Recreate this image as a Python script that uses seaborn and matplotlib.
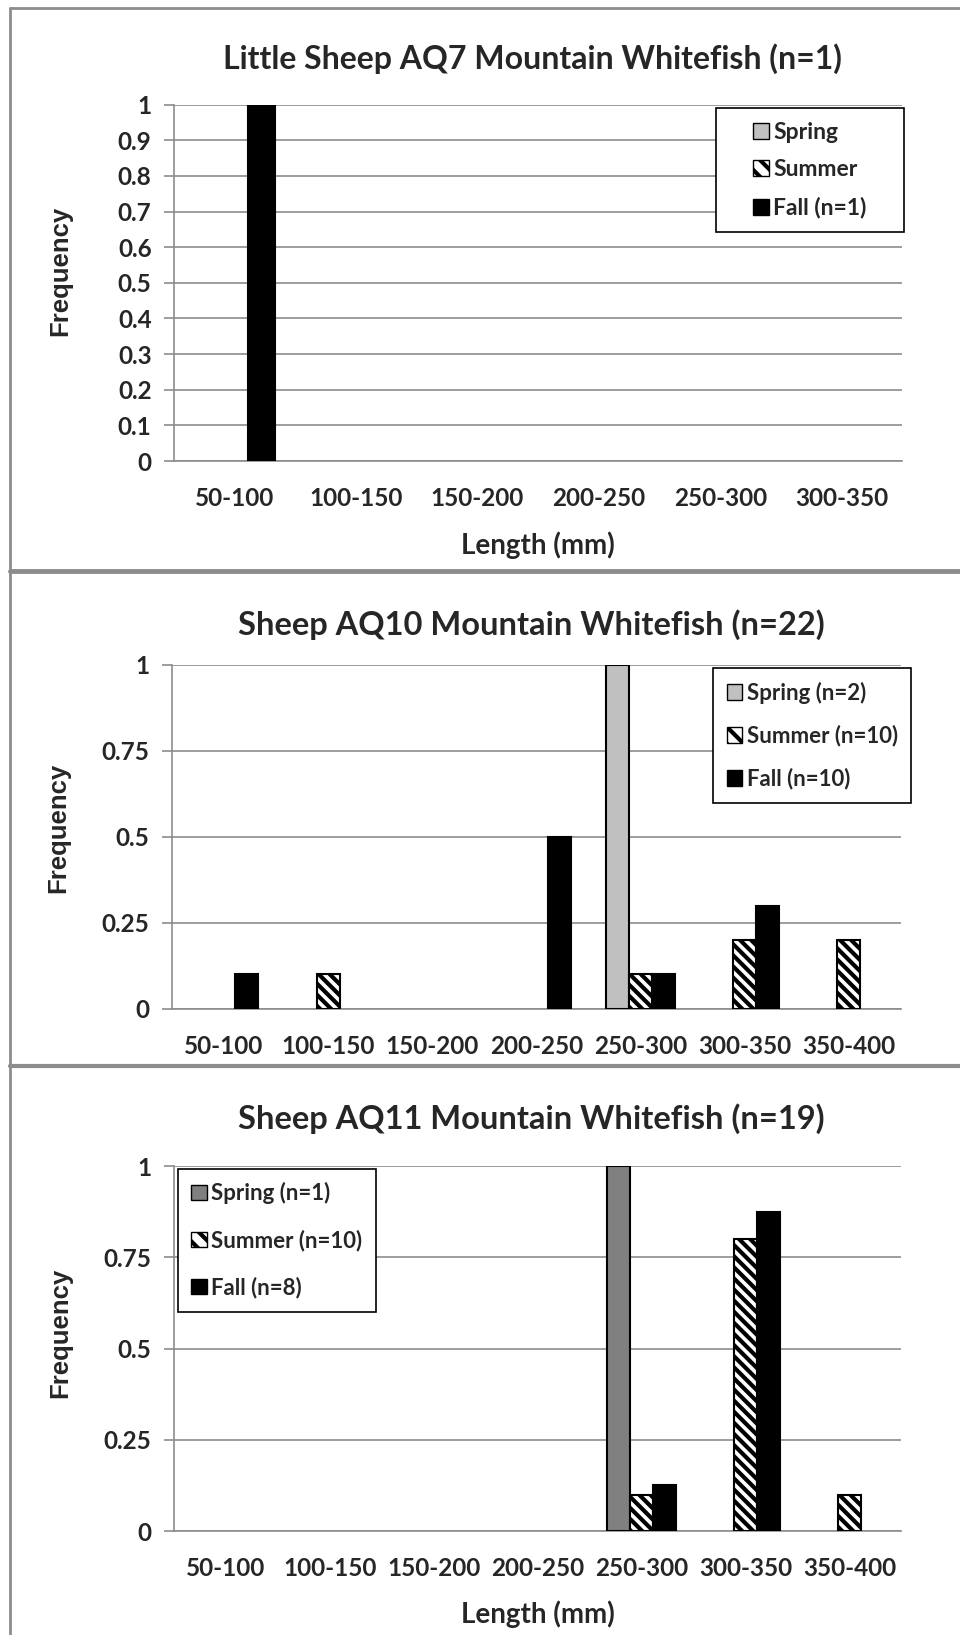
import numpy as np
import pandas as pd
import matplotlib
matplotlib.use("Agg")
import matplotlib.pyplot as plt
import seaborn as sns
from matplotlib.patches import Patch, Rectangle
from matplotlib.lines import Line2D

# ---- data ----
seasons = ["Spring", "Summer", "Fall"]

bins_a = ["50-100", "100-150", "150-200", "200-250", "250-300", "300-350"]
spring_a = [0, 0, 0, 0, 0, 0]
summer_a = [0, 0, 0, 0, 0, 0]
fall_a = [1.0, 0, 0, 0, 0, 0]
legend_a = ["Spring", "Summer", "Fall (n=1)"]
title_a = "Little Sheep AQ7 Mountain Whitefish (n=1)"

bins_b = ["50-100", "100-150", "150-200", "200-250", "250-300", "300-350", "350-400"]
spring_b = [0, 0, 0, 0, 1.0, 0, 0]
summer_b = [0, 0.1, 0, 0, 0.1, 0.2, 0.2]
fall_b = [0.1, 0, 0, 0.5, 0.1, 0.3, 0]
legend_b = ["Spring (n=2)", "Summer (n=10)", "Fall (n=10)"]
title_b = "Sheep AQ10 Mountain Whitefish (n=22)"

spring_c = [0, 0, 0, 0, 1.0, 0, 0]
summer_c = [0, 0, 0, 0, 0.1, 0.8, 0.1]
fall_c = [0, 0, 0, 0, 0.125, 0.875, 0]
legend_c = ["Spring (n=1)", "Summer (n=10)", "Fall (n=8)"]
title_c = "Sheep AQ11 Mountain Whitefish (n=19)"

sns.set_theme(style="white")
plt.rcParams["font.family"] = ["Lato", "DejaVu Sans"]
plt.rcParams["hatch.linewidth"] = 3.0
plt.rcParams["hatch.color"] = "black"

GRID = "#8c8c8c"


def long_table(bins, spring, summer, fall):
    rows = []
    for s, vals in zip(seasons, [spring, summer, fall]):
        for b, v in zip(bins, vals):
            rows.append({"bin": b, "season": s, "freq": v})
    return pd.DataFrame(rows)


def draw_panel(ax, bins, spring, summer, fall, spring_color, labels, yticks,
               ytick_labels, legend_loc, legend_anchor, legend_size, legend_gap,
               show_xlabel, xlab_y, ylab_y):
    df = long_table(bins, spring, summer, fall)
    pal = {"Spring": spring_color, "Summer": "white", "Fall": "black"}
    sns.barplot(data=df, x="bin", y="freq", hue="season", hue_order=seasons,
                palette=pal, width=0.66, edgecolor="black", linewidth=1.5,
                saturation=1, errorbar=None, legend=False, ax=ax, zorder=3)
    for i, cont in enumerate(ax.containers):
        for bar in cont:
            if bar.get_height() == 0:
                bar.set_visible(False)
            if seasons[i] == "Summer":
                bar.set_hatch("\\\\\\")

    n = len(bins)
    ax.set_xlim(-0.5, n - 0.5)
    ax.set_ylim(0, 1)
    ax.set_yticks(yticks)
    ax.set_yticklabels(ytick_labels)
    ax.yaxis.grid(True, color=GRID, linewidth=1.2, zorder=0)
    ax.set_axisbelow(True)
    for side in ["top", "right"]:
        ax.spines[side].set_visible(False)
    for side in ["left", "bottom"]:
        ax.spines[side].set_color(GRID)
        ax.spines[side].set_linewidth(1.2)
    ax.set_xticks(np.arange(-0.5, n, 1.0), minor=True)
    ax.tick_params(axis="x", which="major", length=0, pad=19, labelsize=17.5)
    ax.tick_params(axis="x", which="minor", length=9, width=1.2, color=GRID)
    ax.tick_params(axis="y", length=7, width=1.2, color=GRID, pad=9, labelsize=17.5,
                   left=True)
    for t in ax.get_xticklabels() + ax.get_yticklabels():
        t.set_fontweight("bold")

    ax.set_ylabel("Frequency", fontsize=18.5, fontweight="bold",
                  family=["Liberation Sans", "DejaVu Sans"])
    ax.yaxis.set_label_coords(-0.139, ylab_y)
    if show_xlabel:
        ax.set_xlabel("Length (mm)", fontsize=20, fontweight="bold")
        ax.xaxis.set_label_coords(0.5, xlab_y)
    else:
        ax.set_xlabel("")

    handles = [Patch(facecolor=spring_color, edgecolor="black", linewidth=1),
               Patch(facecolor="white", edgecolor="black", linewidth=1, hatch="\\\\"),
               Patch(facecolor="black", edgecolor="black", linewidth=1)]
    leg = ax.legend(handles, labels, loc=legend_loc, bbox_to_anchor=legend_anchor,
                    frameon=False, handlelength=0.7, handleheight=0.7,
                    handletextpad=0.2, labelspacing=legend_gap, borderpad=0.6,
                    borderaxespad=0, prop={"weight": "bold", "size": legend_size})
    leg.set_zorder(5)
    return leg


def frame_legend(fig, ax, leg, extra_x=0):
    # white box with thin black border behind the legend entries
    fig.canvas.draw()
    bb = leg.get_window_extent()
    inv = fig.transFigure.inverted()
    (x0, y0), (x1, y1) = inv.transform([[bb.x0 - extra_x, bb.y0],
                                        [bb.x1 + extra_x, bb.y1]])
    ax.add_patch(Rectangle((x0, y0), x1 - x0, y1 - y0, transform=fig.transFigure,
                           facecolor="white", edgecolor="black", linewidth=1.2,
                           clip_on=False, zorder=4.5))


fig = plt.figure(figsize=(9.6, 16.35), dpi=100)

ax1 = fig.add_axes([0.181, 0.718, 0.759, 0.218])
leg1 = draw_panel(ax1, bins_a, spring_a, summer_a, fall_a, "#c0c0c0", legend_a,
                  np.arange(0, 1.01, 0.1), ["0", "0.1", "0.2", "0.3", "0.4", "0.5",
                                            "0.6", "0.7", "0.8", "0.9", "1"],
                  "upper right", (0.970, 0.99), 16.5, 0.72, True, -0.197, 0.535)
fig.text(0.555, 0.964, title_a, ha="center", va="center", fontsize=23,
         fontweight="bold")

ax2 = fig.add_axes([0.179, 0.383, 0.7595, 0.2104])
leg2 = draw_panel(ax2, bins_b, spring_b, summer_b, fall_b, "#c0c0c0", legend_b,
                  [0, 0.25, 0.5, 0.75, 1], ["0", "0.25", "0.5", "0.75", "1"],
                  "upper right", (1.014, 0.99), 16, 0.96, False, -0.2, 0.526)
fig.text(0.553, 0.6177, title_b, ha="center", va="center", fontsize=23.5,
         fontweight="bold")

ax3 = fig.add_axes([0.181, 0.0636, 0.758, 0.2232])
leg3 = draw_panel(ax3, bins_b, spring_c, summer_c, fall_c, "#808080", legend_c,
                  [0, 0.25, 0.5, 0.75, 1], ["0", "0.25", "0.5", "0.75", "1"],
                  "upper left", (0.0055, 0.992), 16, 1.14, True, -0.189, 0.544)
fig.text(0.553, 0.3156, title_c, ha="center", va="center", fontsize=23.5,
         fontweight="bold")

frame_legend(fig, ax1, leg1, extra_x=23)
frame_legend(fig, ax2, leg2)
frame_legend(fig, ax3, leg3)

# panel frames
W, H = 960.0, 1635.0
def fline(x0, y0, x1, y1, lw=2.0):
    fig.add_artist(Line2D([x0 / W, x1 / W], [1 - y0 / H, 1 - y1 / H],
                          color="#8c8c8c", linewidth=lw))

fline(10, 8, 960, 8)
fline(10, 8, 10, 1635)
fline(10, 571, 960, 571, lw=3.5)
fline(10, 1066, 960, 1066, lw=3.0)

fig.savefig("out.png", dpi=100, facecolor="white")
